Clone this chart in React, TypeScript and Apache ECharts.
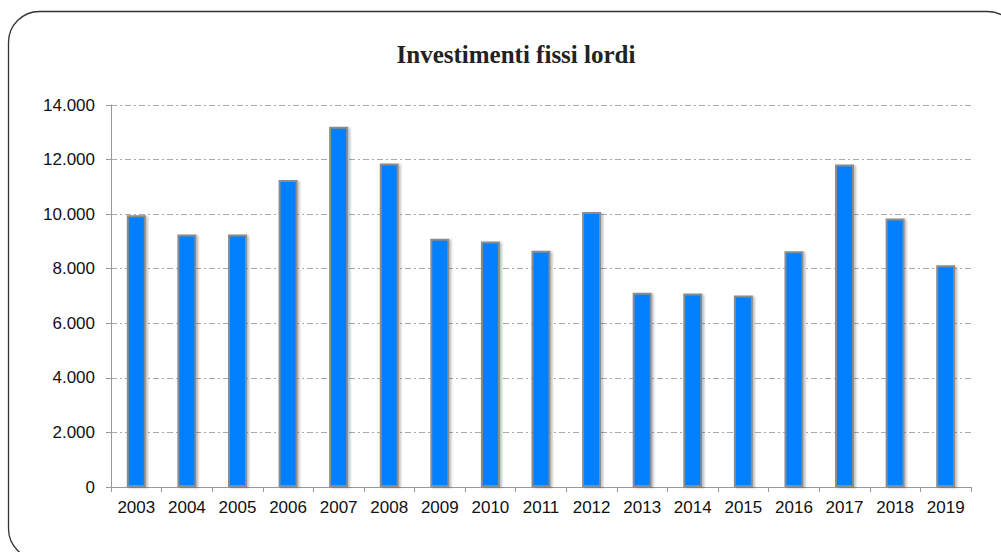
import React, { useEffect, useRef } from "react";
import * as echarts from "echarts";

const years = ["2003","2004","2005","2006","2007","2008","2009","2010","2011","2012","2013","2014","2015","2016","2017","2018","2019"];
const investimenti = [9960, 9250, 9250, 11250, 13200, 11860, 9100, 9000, 8660, 10080, 7120, 7090, 7020, 8640, 11820, 9840, 8130];
const title = "Investimenti fissi lordi";

function fmt(v: number): string {
  const s = String(Math.round(v));
  return s.replace(/\B(?=(\d{3})+(?!\d))/g, ".");
}

export default function App() {
  const ref = useRef<HTMLDivElement>(null);
  useEffect(() => {
    const chart = echarts.init(ref.current!, null, { renderer: "svg" });
    chart.setOption({
      animation: false,
      backgroundColor: "#ffffff",
      graphic: [
        {
          type: "rect",
          shape: { x: 8.5, y: 11.5, width: 1010, height: 548, r: 31 },
          style: { fill: "none", stroke: "#333333", lineWidth: 1.3 },
          silent: true,
          z: 0,
        },
      ],
      title: {
        text: title,
        left: 511,
        textAlign: "center",
        top: 37,
        textStyle: {
          fontFamily: "Liberation Serif",
          fontWeight: "bold",
          fontSize: 25,
          color: "#222222",
        },
      },
      grid: { left: 111, right: 30, top: 105, bottom: 65 },
      xAxis: {
        type: "category",
        data: years,
        axisLine: { show: true, lineStyle: { color: "#999999", width: 1 } },
        axisTick: { show: true, length: 5, lineStyle: { color: "#999999" } },
        axisLabel: {
          fontFamily: "Liberation Sans",
          fontSize: 17,
          color: "#111111",
          margin: 12,
          interval: 0,
        },
      },
      yAxis: {
        type: "value",
        min: 0,
        max: 14000,
        interval: 2000,
        axisLine: { show: true, lineStyle: { color: "#999999", width: 1 } },
        axisTick: { show: true, length: 5, lineStyle: { color: "#999999" } },
        axisLabel: {
          fontFamily: "Liberation Sans",
          fontSize: 17,
          color: "#111111",
          margin: 16,
          formatter: (v: number) => fmt(v),
        },
        splitLine: {
          show: true,
          lineStyle: { color: "#aaaaaa", width: 1, type: [6, 3, 2, 3] },
        },
      },
      series: [
        {
          type: "bar",
          data: investimenti,
          barWidth: 19,
          itemStyle: {
            color: "#0080ff",
            borderColor: "#8c8c8c",
            borderWidth: 2,
            shadowColor: "rgba(0,0,0,0.25)",
            shadowBlur: 2,
            shadowOffsetX: 2,
            shadowOffsetY: 1,
          },
        },
      ],
    });
    return () => chart.dispose();
  }, []);
  return (
    <div
      ref={ref}
      style={{ position: "fixed", left: 0, top: 0, width: 1001, height: 552 }}
    />
  );
}
